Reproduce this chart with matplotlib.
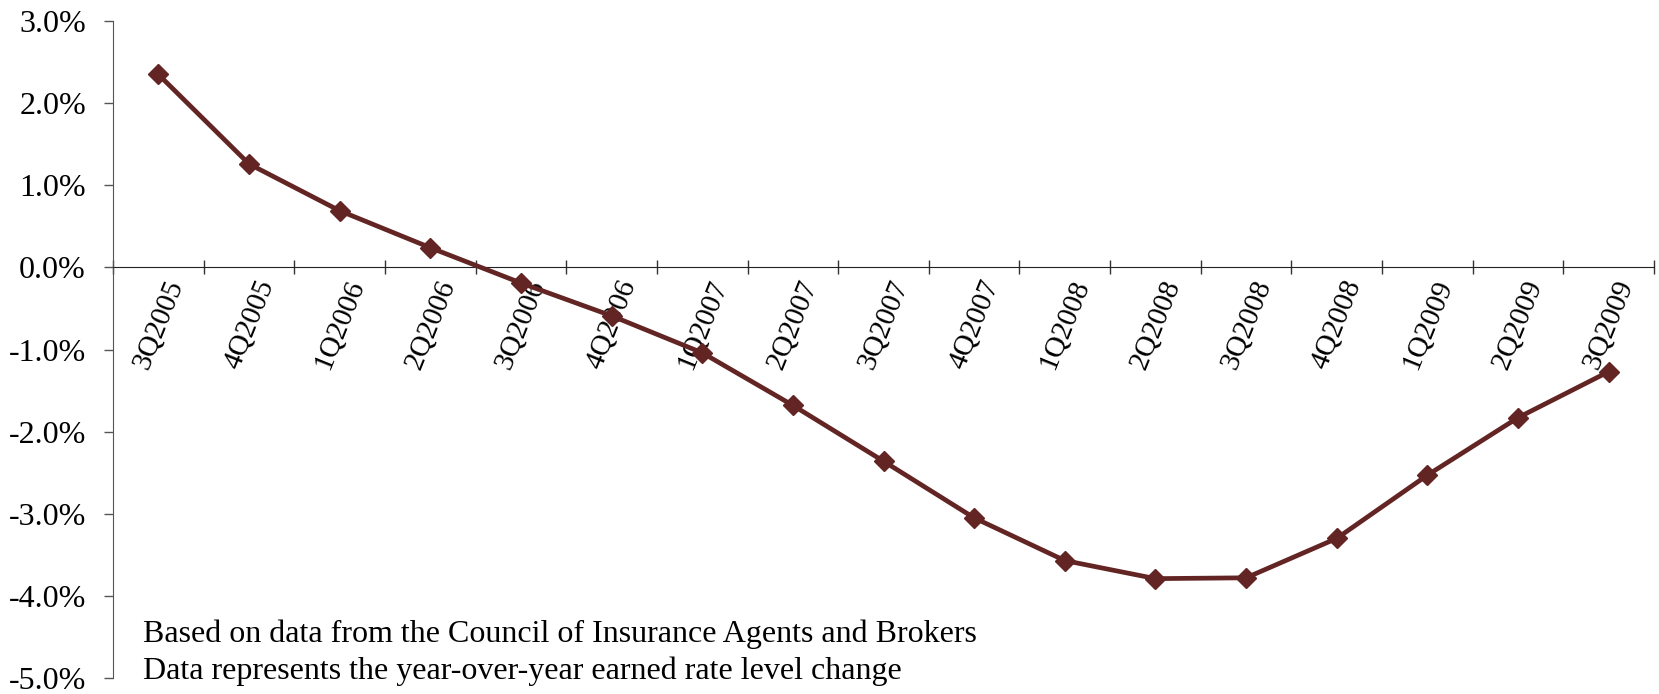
import numpy as np
import matplotlib
matplotlib.use("Agg")
import matplotlib.pyplot as plt

quarters = ['3Q2005', '4Q2005', '1Q2006', '2Q2006', '3Q2006', '4Q2006',
            '1Q2007', '2Q2007', '3Q2007', '4Q2007', '1Q2008', '2Q2008',
            '3Q2008', '4Q2008', '1Q2009', '2Q2009', '3Q2009']
cambio = [2.35, 1.26, 0.69, 0.24, -0.19, -0.59, -1.04, -1.68, -2.36,
          -3.05, -3.57, -3.79, -3.78, -3.30, -2.53, -1.83, -1.27]
yticks = [3, 2, 1, 0, -1, -2, -3, -4, -5]
nota = ['Based on data from the Council of Insurance Agents and Brokers',
        'Data represents the year-over-year earned rate level change']

color = '#632523'
fuente = 'Liberation Serif'
W, H = 1659, 694

fig = plt.figure(figsize=(W / 100, H / 100), dpi=100)
ax = fig.add_axes([113 / W, 1 - 678 / H, (1654 - 113) / W, (678 - 21) / H])

x = np.arange(len(quarters)) + 0.5
ax.plot(x, cambio, color=color, lw=3.4, marker='D', ms=10.5,
        mec=color, mfc=color, zorder=3)

ax.set_xlim(0, len(quarters))
ax.set_ylim(-5, 3)

ax.spines['top'].set_visible(False)
ax.spines['right'].set_visible(False)
ax.spines['bottom'].set_position(('data', 0))
ax.spines['bottom'].set_color('#222222')
ax.spines['left'].set_color('#555555')

# tick marks between categories, labels at centers
ax.set_xticks(np.arange(len(quarters) + 1))
ax.set_xticklabels([])
ax.tick_params(axis='x', which='major', direction='inout', length=10,
               width=1, color='#333333')
ax.set_xticks(x, minor=True)
ax.set_xticklabels(quarters, minor=True, rotation=68, ha='center', va='top',
                   family=fuente, fontsize=21)
ax.tick_params(axis='x', which='minor', length=0, pad=6)

ax.set_yticks(yticks)
ax.set_yticklabels(['%.1f%%' % v for v in yticks], family=fuente,
                   fontsize=23)
ax.tick_params(axis='y', direction='out', length=6.5, width=1,
               color='#555555', pad=13)

fig.text(143 / W, 1 - 642 / H, nota[0], family=fuente,
         fontsize=23, va='baseline', ha='left')
fig.text(143 / W, 1 - 679 / H, nota[1], family=fuente,
         fontsize=23, va='baseline', ha='left')

fig.savefig('out.png', dpi=100)
